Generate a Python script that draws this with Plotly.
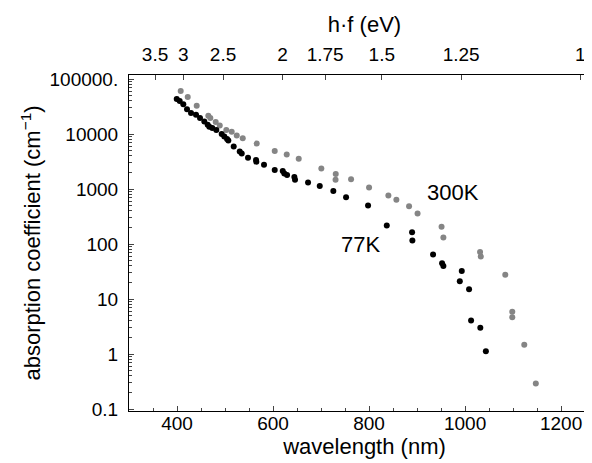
import plotly.graph_objects as go

# 300 K series (wavelength nm, absorption coefficient cm^-1)
wl_300 = [407.7, 422.3, 441.0, 465.2, 469.4, 480.6, 489.0, 502.7, 513.9, 524.4, 536.9,
          566.0, 603.5, 628.5, 653.5, 700.6, 730.6, 730.2, 762.5, 800.0, 840.2, 856.9,
          883.3, 901.0, 951.0, 954.8, 1031.2, 1032.7, 1083.7, 1098.3, 1098.3, 1123.3, 1147.3]
alpha_300 = [60700, 47200, 32800, 21400, 19600, 16600, 14300, 11800, 11000, 9400, 8400,
             6700, 4900, 4250, 3550, 2370, 1880, 1480, 1510, 1060, 759, 637,
             484, 358, 207, 131, 71.3, 59.1, 27.6, 5.89, 4.68, 1.47, 0.29]

# 77 K series
wl_77 = [399.4, 405.6, 413.1, 420.8, 429.2, 439.6, 447.9, 456.9, 463.9, 467.3, 473.5,
         481.9, 493.1, 498.5, 504.2, 506.9, 518.1, 530.6, 534.8, 547.9, 564.6, 565.2,
         581.2, 603.5, 620.2, 623.5, 629.2, 644.4, 645.8, 672.9, 697.3, 725.6, 752.1,
         797.9, 836.9, 889.6, 890.2, 933.3, 952.1, 954.8, 993.1, 989.0, 1008.3, 1012.5,
         1031.7, 1043.3]
alpha_77 = [43500, 39900, 34800, 28300, 24200, 22300, 19600, 16800, 14800, 13500, 12800,
            11800, 9960, 9000, 8090, 7630, 5940, 4820, 4430, 3710, 3370, 3140,
            2770, 2220, 2130, 1920, 1800, 1660, 1480, 1320, 1140, 924, 708,
            500, 217, 164, 116, 64.2, 44.9, 39.8, 32.3, 21.0, 15.1, 4.08,
            3.00, 1.12]

# tick labels
x_ticks = [400, 600, 800, 1000, 1200]
y_ticks = [0.1, 1, 10, 100, 1000, 10000, 100000]
y_ticktext = ["0.1", "1", "10", "100", "1000", "10000", "100000."]
ev_ticks = [3.5, 3, 2.5, 2, 1.75, 1.5, 1.25, 1]
ev_ticktext = ["3.5", "3", "2.5", "2", "1.75", "1.5", "1.25", "1"]
HC = 1239.84  # eV*nm

FONT = "Liberation Sans, Arial, sans-serif"

fig = go.Figure()
fig.add_trace(go.Scatter(x=wl_300, y=alpha_300, mode="markers",
                         marker=dict(color="#858585", size=6), showlegend=False))
fig.add_trace(go.Scatter(x=wl_77, y=alpha_77, mode="markers",
                         marker=dict(color="#000000", size=6), showlegend=False))
# invisible trace to activate top axis
fig.add_trace(go.Scatter(x=[HC / e for e in ev_ticks], y=[1] * len(ev_ticks),
                         xaxis="x2", yaxis="y", mode="markers",
                         marker=dict(opacity=0), showlegend=False, hoverinfo="skip"))

xr = [300, 1281]
fig.update_layout(
    width=592, height=463,
    margin=dict(l=121, r=0, t=67, b=60),
    paper_bgcolor="white", plot_bgcolor="white",
    font=dict(family=FONT, size=19, color="black"),
    xaxis=dict(range=xr, tickvals=x_ticks, ticks="inside", ticklen=5, automargin=False,
               showgrid=False, zeroline=False, showline=True, linecolor="black",
               linewidth=1, mirror=False, ticklabelstandoff=-5,
               minor=dict(ticks="inside", ticklen=3, dtick=50, tick0=300, showgrid=False),
               title=dict(text="wavelength (nm)", font=dict(size=22), standoff=2)),
    xaxis2=dict(range=xr, overlaying="x", side="top", anchor="y", automargin=False,
                tickvals=[HC / e for e in ev_ticks], ticktext=ev_ticktext,
                ticks="inside", ticklen=5, showgrid=False, zeroline=False,
                ticklabelstandoff=5,
                showline=True, linecolor="black", linewidth=1,
                title=dict(text="h·f (eV)", font=dict(size=22), standoff=5)),
    yaxis=dict(type="log", range=[-1.036, 5.073], tickvals=y_ticks, ticktext=y_ticktext,
               ticks="inside", ticklen=5, showgrid=False, zeroline=False, automargin=False,
               showline=True, linecolor="black", linewidth=1, ticklabelstandoff=6,
               minor=dict(ticks="inside", ticklen=3, dtick="D1", showgrid=False),
               title=dict(text="absorption coefficient (cm<sup>−1</sup>)",
                          font=dict(size=22), standoff=2)),
    annotations=[
        dict(x=975, y=2.93, xref="x", yref="y", text="300K", showarrow=False,
             font=dict(size=22)),
        dict(x=783, y=1.99, xref="x", yref="y", text="77K", showarrow=False,
             font=dict(size=22)),
    ],
)

fig.write_html("out.html")
